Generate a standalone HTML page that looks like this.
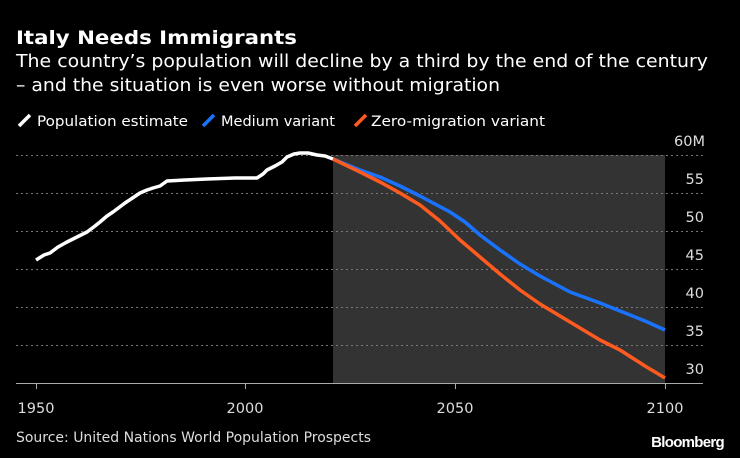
<!DOCTYPE html><html><head><meta charset="utf-8"><style>body{margin:0;background:#000;}svg{display:block;font-family:"DejaVu Sans","Liberation Sans",sans-serif;}</style></head><body>
<svg width="740" height="458" xmlns="http://www.w3.org/2000/svg">
<rect width="740" height="458" fill="#000"/>
<text x="16" y="44" fill="#fff" font-size="19" font-weight="bold" textLength="281" lengthAdjust="spacingAndGlyphs">Italy Needs Immigrants</text>
<text x="16" y="67" fill="#fff" font-size="17.5" textLength="692" lengthAdjust="spacingAndGlyphs">The country’s population will decline by a third by the end of the century</text>
<text x="16" y="91" fill="#fff" font-size="17.5" textLength="484" lengthAdjust="spacingAndGlyphs">– and the situation is even worse without migration</text>
<g font-size="14.5" fill="#fff">
<line x1="19" y1="126" x2="30" y2="115" stroke="#fff" stroke-width="3.5"/><text x="37" y="126" textLength="151" lengthAdjust="spacingAndGlyphs">Population estimate</text>
<line x1="203" y1="126" x2="214" y2="115" stroke="#1a73ff" stroke-width="3.5"/><text x="221" y="126" textLength="114" lengthAdjust="spacingAndGlyphs">Medium variant</text>
<line x1="355" y1="126" x2="366" y2="115" stroke="#ff5a1f" stroke-width="3.5"/><text x="371" y="126" textLength="174" lengthAdjust="spacingAndGlyphs">Zero-migration variant</text>
</g>
<rect x="333" y="155" width="332" height="229" fill="#333"/>
<g stroke="#777" stroke-width="1" stroke-dasharray="2,3">
<line x1="16" y1="155.5" x2="703" y2="155.5"/><line x1="16" y1="193.5" x2="703" y2="193.5"/><line x1="16" y1="231.5" x2="703" y2="231.5"/><line x1="16" y1="269.5" x2="703" y2="269.5"/><line x1="16" y1="307.5" x2="703" y2="307.5"/><line x1="16" y1="345.5" x2="703" y2="345.5"/>
</g>
<line x1="16" y1="383.5" x2="703" y2="383.5" stroke="#aaa"/>
<g stroke="#aaa"><line x1="36.5" y1="384" x2="36.5" y2="389"/><line x1="245.5" y1="384" x2="245.5" y2="389"/><line x1="455.5" y1="384" x2="455.5" y2="389"/><line x1="665.5" y1="384" x2="665.5" y2="389"/></g>
<g fill="#ddd" font-size="14.5" text-anchor="middle"><text x="36" y="413">1950</text><text x="245" y="413">2000</text><text x="455" y="413">2050</text><text x="665" y="413">2100</text></g>
<g fill="#ddd" font-size="14.5" text-anchor="end"><text x="705" y="146">60M</text><text x="704" y="184">55</text><text x="704" y="222">50</text><text x="704" y="260">45</text><text x="704" y="298">40</text><text x="704" y="336">35</text><text x="704" y="374">30</text></g>
<polyline fill="none" stroke="#fff" stroke-width="3.5" stroke-linejoin="round" points="36,260 44,255 50,253 58,247 67,242 77,237 87,232 95,226 100,222 107,216 113,212 125,203 140,193 147,190 153,188 160,186 167,181 185,180 207,179 235,178 257,178 263,174 267,170 275,166 282,162 287,157 294,154 300,153 308,153 317,155 325,156 333,159"/>
<polyline fill="none" stroke="#1a73ff" stroke-width="3.5" stroke-linejoin="round" points="333,159 360,170 380,177 400,186 420,196 450,212 465,222 480,235 500,250 520,264 540,276 570,292 600,303 620,311 645,321 665,330"/>
<polyline fill="none" stroke="#ff5a1f" stroke-width="3.5" stroke-linejoin="round" points="333,159 360,172 380,182 400,193 420,205 440,221 460,240 480,257 500,274 520,290 540,304 570,322 600,340 620,350 645,366 665,378"/>
<text x="16" y="442" fill="#ddd" font-size="14" textLength="355" lengthAdjust="spacingAndGlyphs">Source: United Nations World Population Prospects</text>
<text x="724" y="447" fill="#fff" font-size="15" font-weight="bold" text-anchor="end" letter-spacing="-0.7" font-family="Liberation Sans">Bloomberg</text>
</svg></body></html>
